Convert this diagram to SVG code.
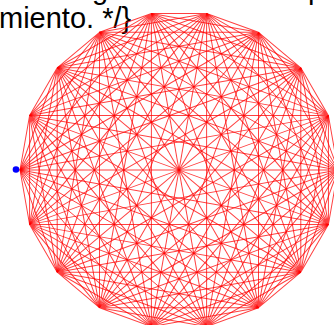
<svg xmlns="http://www.w3.org/2000/svg" width="334" height="325" viewBox="0 0 334 325">
<style>
.t{font-family:"Liberation Sans",Arial,sans-serif;font-size:29px;fill:#000}
.e{fill:none;stroke:#ff0000;stroke-width:1;stroke-opacity:0.75}
</style>
<defs>
<path id="fan" d="M338 170L328.41 115.62M338 170L300.8 67.8M338 170L258.5 32.3M338 170L206.61 13.42M338 170L151.39 13.42M338 170L99.5 32.3M338 170L57.2 67.8M338 170L29.59 115.62"/>
<path id="dia" d="M338 170L20 170"/>
</defs>
<rect width="334" height="325" fill="#fff"/>
<g id="caption">
<text class="t" x="0" y="-1">de la siguiente forma el posiciona</text>
<text class="t" x="-1" y="28">miento. */}</text>
</g>
<g id="connectors" class="e">
<use href="#fan"/>
<use href="#fan" transform="rotate(20 179 170)"/>
<use href="#fan" transform="rotate(40 179 170)"/>
<use href="#fan" transform="rotate(60 179 170)"/>
<use href="#fan" transform="rotate(80 179 170)"/>
<use href="#fan" transform="rotate(100 179 170)"/>
<use href="#fan" transform="rotate(120 179 170)"/>
<use href="#fan" transform="rotate(140 179 170)"/>
<use href="#fan" transform="rotate(160 179 170)"/>
<use href="#fan" transform="rotate(180 179 170)"/>
<use href="#fan" transform="rotate(200 179 170)"/>
<use href="#fan" transform="rotate(220 179 170)"/>
<use href="#fan" transform="rotate(240 179 170)"/>
<use href="#fan" transform="rotate(260 179 170)"/>
<use href="#fan" transform="rotate(280 179 170)"/>
<use href="#fan" transform="rotate(300 179 170)"/>
<use href="#fan" transform="rotate(320 179 170)"/>
<use href="#fan" transform="rotate(340 179 170)"/>
<use href="#dia"/>
<use href="#dia" transform="rotate(20 179 170)"/>
<use href="#dia" transform="rotate(40 179 170)"/>
<use href="#dia" transform="rotate(60 179 170)"/>
<use href="#dia" transform="rotate(80 179 170)"/>
<use href="#dia" transform="rotate(100 179 170)"/>
<use href="#dia" transform="rotate(120 179 170)"/>
<use href="#dia" transform="rotate(140 179 170)"/>
<use href="#dia" transform="rotate(160 179 170)"/>
</g>
<g id="node-start">
<circle cx="16" cy="169.5" r="3.3" fill="#0000ff"/>
</g>
</svg>
